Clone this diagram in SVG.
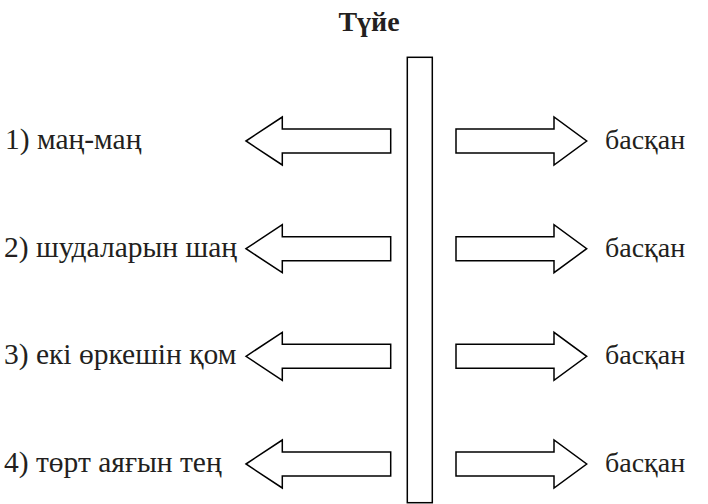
<svg xmlns="http://www.w3.org/2000/svg" width="708" height="504" viewBox="0 0 708 504">
<style>
text{font-family:"Liberation Serif","Noto Sans CJK SC",serif;font-size:28px;fill:#231f20}
.lbl{font-size:29.5px}
.title{font-weight:bold;text-anchor:middle}
.shape{fill:#fff;stroke:#000;stroke-width:1.5;stroke-linejoin:miter}
</style>
<defs>
<polygon id="la" class="shape" points="246,0 282.3,-24 282.3,-12 390.7,-12 390.7,12 282.3,12 282.3,24"/>
<polygon id="ra" class="shape" points="456,-12 554,-12 554,-24 586.7,0 554,24 554,12 456,12"/>
</defs>
<rect width="708" height="504" fill="#fff"/>
<g id="title"><text class="title" x="369" y="31">Түйе</text></g>
<g id="column"><rect class="shape" x="407.3" y="57.3" width="25" height="445.4"/></g>
<g id="connectors">
<use href="#la" y="141"/><use href="#ra" y="141"/>
<use href="#la" y="248.7"/><use href="#ra" y="248.7"/>
<use href="#la" y="356.3"/><use href="#ra" y="356.3"/>
<use href="#la" y="464"/><use href="#ra" y="464"/>
</g>
<g id="row1"><text class="lbl" x="5" y="149">1) маң-маң</text><text x="605" y="149">басқан</text></g>
<g id="row2"><text class="lbl" x="4" y="257">2) шудаларын шаң</text><text x="605" y="257">басқан</text></g>
<g id="row3"><text class="lbl" x="4" y="364">3) екі өркешін қом</text><text x="605" y="364">басқан</text></g>
<g id="row4"><text class="lbl" x="4" y="472">4) төрт аяғын тең</text><text x="605" y="472">басқан</text></g>
</svg>
